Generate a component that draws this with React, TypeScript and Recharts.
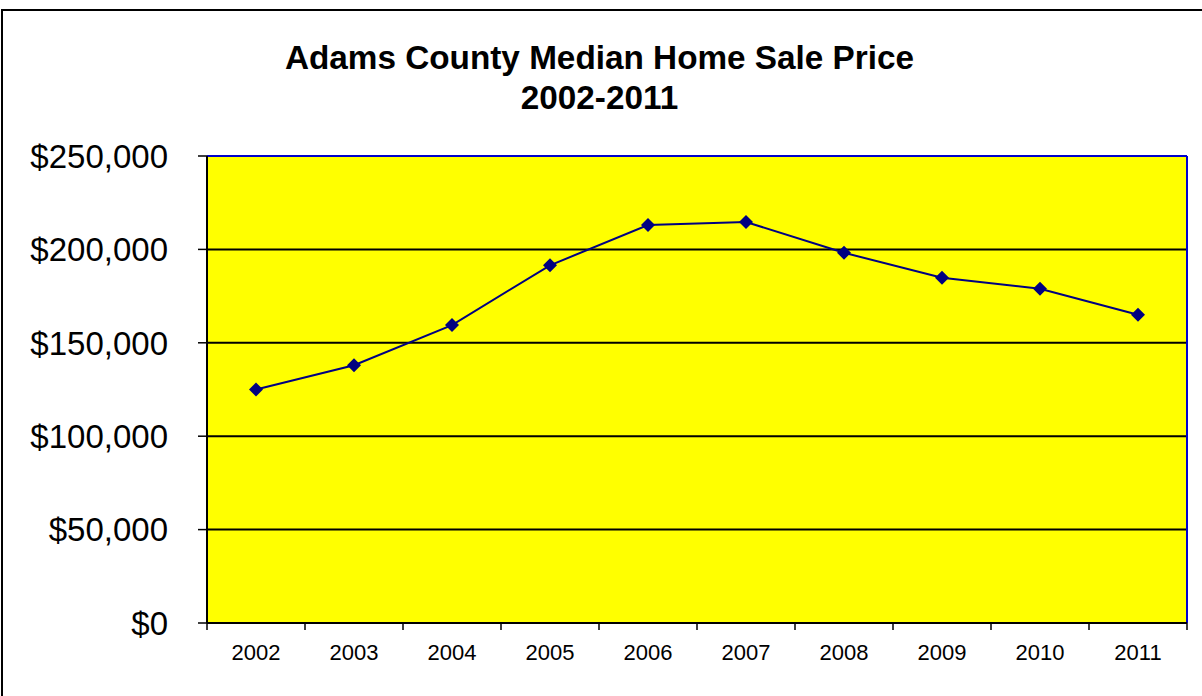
import React from "react";
import {
  LineChart,
  Line,
  XAxis,
  YAxis,
  CartesianGrid,
  ReferenceLine,
} from "recharts";

const YEARS = ["2002", "2003", "2004", "2005", "2006", "2007", "2008", "2009", "2010", "2011"];
const MEDIAN_PRICE = [125000, 138000, 159500, 191500, 213000, 214700, 198200, 184800, 178900, 165000];
const Y_TICKS = [0, 50000, 100000, 150000, 200000, 250000];

// categories sit in the middle of each slot, tick marks on the slot edges (Excel style)
const data = YEARS.map((year, i) => ({ pos: i + 0.5, year, price: MEDIAN_PRICE[i] }));
const X_TICKS: number[] = [];
for (let i = 0; i <= YEARS.length; i++) {
  X_TICKS.push(i);
  if (i < YEARS.length) X_TICKS.push(i + 0.5);
}

const FONT = '"Liberation Sans", Arial, Helvetica, sans-serif';

const fmtMoney = (v: number) => "$" + v.toLocaleString("en-US");

function Diamond(props: any) {
  const { cx, cy } = props;
  if (cx == null || cy == null) return null;
  const r = 7;
  return (
    <path
      d={`M${cx},${cy - r}L${cx + r},${cy}L${cx},${cy + r}L${cx - r},${cy}Z`}
      fill="#000080"
      stroke="none"
    />
  );
}

function YearTick(props: any) {
  const { x, y, payload } = props;
  const v = payload.value as number;
  if (Number.isInteger(v)) {
    return <line x1={x} y1={y} x2={x} y2={y + 7} stroke="#000" strokeWidth={1.5} />;
  }
  return (
    <text
      x={x}
      y={y + 37}
      textAnchor="middle"
      fontSize={22}
      fontFamily={FONT}
      fill="#000"
    >
      {YEARS[Math.floor(v)]}
    </text>
  );
}

export default function App() {
  return (
    <div
      style={{
        position: "absolute",
        left: 0,
        top: 0,
        width: 1202,
        height: 696,
        overflow: "hidden",
        background: "#fff",
        fontFamily: FONT,
      }}
    >
      <div
        style={{
          position: "absolute",
          left: 1,
          top: 9,
          width: 1400,
          height: 900,
          border: "2px solid #000",
        }}
      />
      <div
        style={{
          position: "absolute",
          left: 0,
          top: 38,
          width: 1199,
          textAlign: "center",
          fontSize: 33.3,
          lineHeight: "40px",
          fontWeight: "bold",
          color: "#000",
        }}
      >
        Adams County Median Home Sale Price
        <br />
        2002-2011
      </div>
      <div style={{ position: "absolute", left: 0, top: 0 }}>
        <LineChart
          width={1202}
          height={696}
          data={data}
          margin={{ top: 156, right: 15, bottom: 0, left: 0 }}
        >
          <CartesianGrid
            vertical={false}
            fill="#ffff00"
            stroke="#000"
            strokeWidth={2}
            horizontalValues={Y_TICKS}
          />
          <XAxis
            dataKey="pos"
            type="number"
            domain={[0, YEARS.length]}
            ticks={X_TICKS}
            interval={0}
            height={73}
            tickSize={0}
            tickMargin={0}
            tickLine={false}
            axisLine={{ stroke: "#000", strokeWidth: 2 }}
            tick={<YearTick />}
          />
          <YAxis
            width={207}
            domain={[0, 250000]}
            ticks={Y_TICKS}
            tickFormatter={fmtMoney}
            tickSize={9}
            tickMargin={30}
            axisLine={{ stroke: "#000", strokeWidth: 2 }}
            tickLine={{ stroke: "#000", strokeWidth: 1.5 }}
            tick={{ fontSize: 33, fill: "#000", fontFamily: FONT }}
          />
          <ReferenceLine y={250000} stroke="#0000cc" strokeWidth={2} />
          <ReferenceLine x={YEARS.length} stroke="#0000cc" strokeWidth={2} />
          <Line
            type="linear"
            dataKey="price"
            stroke="#000080"
            strokeWidth={2}
            dot={<Diamond />}
            activeDot={false}
            isAnimationActive={false}
          />
        </LineChart>
      </div>
    </div>
  );
}
